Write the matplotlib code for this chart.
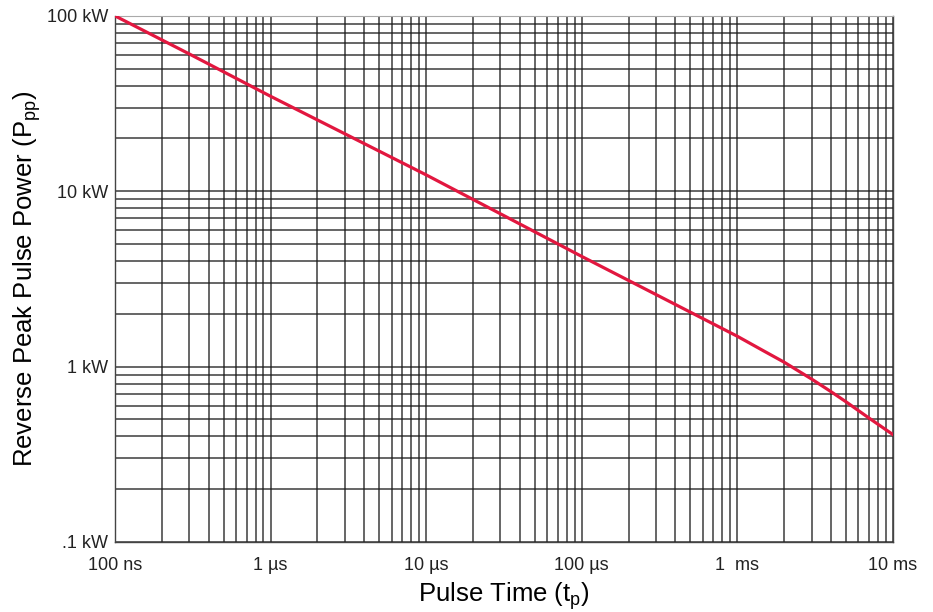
import numpy as np
import matplotlib
matplotlib.use("Agg")
import matplotlib.pyplot as plt
from matplotlib.ticker import LogLocator, NullFormatter, FixedLocator, FixedFormatter

plt.rcParams['font.family'] = ['Liberation Sans', 'DejaVu Sans']
plt.rcParams['mathtext.fontset'] = 'custom'
plt.rcParams['mathtext.rm'] = 'Liberation Sans'
plt.rcParams['mathtext.it'] = 'Liberation Sans'

# pulse time (s) vs reverse peak pulse power (kW)
pulse_time = [1e-7, 3e-7, 1e-6, 1e-5, 1e-4, 1e-3, 1.5e-3, 2e-3, 3e-3, 4e-3, 5e-3, 7e-3, 1e-2]
peak_power = [100, 60.7, 34.8, 12.4, 4.25, 1.49, 1.22, 1.06, 0.85, 0.72, 0.63, 0.51, 0.41]

x_ticks = [1e-7, 1e-6, 1e-5, 1e-4, 1e-3, 1e-2]
x_labels = ["100 ns", "1 µs", "10 µs", "100 µs", "1  ms", "10 ms"]
y_ticks = [0.1, 1, 10, 100]
y_labels = [".1 kW", "1 kW", "10 kW", "100 kW"]

fig = plt.figure(figsize=(9.33, 6.12), dpi=100)
ax = fig.add_axes([0.1233, 0.1144, 0.8337, 0.8596])

ax.plot(pulse_time, peak_power, color="#e2173f", lw=2.3, solid_joinstyle="round", zorder=3)

ax.set_xscale("log")
ax.set_yscale("log")
ax.set_xlim(1e-7, 1e-2)
ax.set_ylim(0.1, 100)

ax.xaxis.set_major_locator(FixedLocator(x_ticks))
ax.xaxis.set_major_formatter(FixedFormatter(x_labels))
ax.yaxis.set_major_locator(FixedLocator(y_ticks))
ax.yaxis.set_major_formatter(FixedFormatter(y_labels))
ax.xaxis.set_minor_locator(LogLocator(base=10, subs=np.arange(2, 10)))
ax.yaxis.set_minor_locator(LogLocator(base=10, subs=np.arange(2, 10)))
ax.xaxis.set_minor_formatter(NullFormatter())
ax.yaxis.set_minor_formatter(NullFormatter())

ax.grid(which="both", color="#1a1a1a", lw=1.1, alpha=0.85)
ax.tick_params(which="both", length=0, labelsize=13, colors="#222222")
ax.tick_params(axis="x", pad=11)
ax.tick_params(axis="y", pad=5)

for side in ["left", "bottom", "right"]:
    ax.spines[side].set_color("#444444")
    ax.spines[side].set_linewidth(1.0)
ax.spines["top"].set_color("#aaaaaa")

ax.set_xlabel(r"Pulse Time (t$_\mathrm{p}$)", fontsize=18.5, labelpad=4)
ax.set_ylabel(r"Reverse Peak Pulse Power (P$_\mathrm{pp}$)", fontsize=18.5, labelpad=3)

fig.savefig("out.png", dpi=100)
